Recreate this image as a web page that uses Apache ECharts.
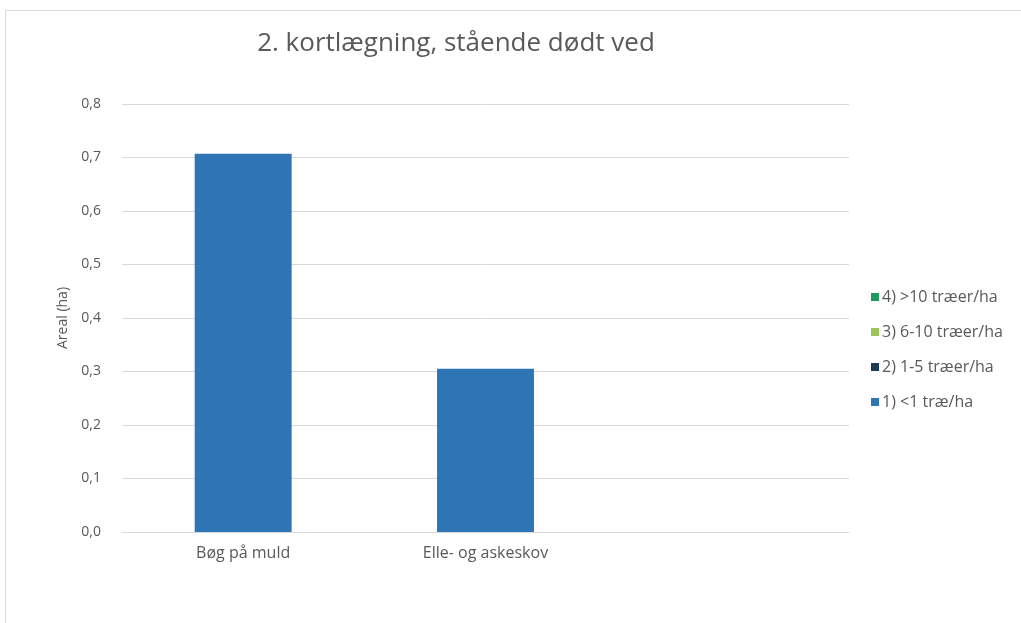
<!DOCTYPE html>
<html>
<head>
<meta charset="utf-8">
<script src="https://cdn.jsdelivr.net/npm/echarts@6/dist/echarts.min.js"></script>
<style>
html,body{margin:0;padding:0;background:#fff;}
#chart{width:1021px;height:623px;}
</style>
</head>
<body>
<div id="chart"></div>
<script>
const categories = ['Bøg på muld', 'Elle- og askeskov', ''];
const seriesNames = ['1) <1 træ/ha', '2) 1-5 træer/ha', '3) 6-10 træer/ha', '4) >10 træer/ha'];
const s1 = [0.707, 0.305, 0];
const s2 = [0, 0, 0];
const s3 = [0, 0, 0];
const s4 = [0, 0, 0];
const colors = ['#2e75b6', '#203a56', '#9dc35c', '#1e9b5a'];
const yTicks = [0, 0.1, 0.2, 0.3, 0.4, 0.5, 0.6, 0.7, 0.8];

const font = '"Open Sans", "Liberation Sans", sans-serif';
const values = [s1, s2, s3, s4];
const chart = echarts.init(document.getElementById('chart'));
chart.setOption({
  animation: false,
  backgroundColor: '#fff',
  graphic: [{
    type: 'rect', shape: {x: 5.5, y: 10.5, width: 1030, height: 630},
    style: {fill: 'none', stroke: '#d9d9d9', lineWidth: 1}, silent: true
  }],
  title: {
    text: '2. kortlægning, stående dødt ved',
    left: 451, top: 26, textAlign: 'center',
    textStyle: {fontFamily: font, fontSize: 26, fontWeight: 'normal', color: '#595959'}
  },
  legend: {
    orient: 'vertical', left: 866, top: 284,
    itemWidth: 8, itemHeight: 8, itemGap: 19,
    icon: 'rect',
    data: seriesNames.slice().reverse(),
    textStyle: {fontFamily: font, fontSize: 16, color: '#595959', padding: [0,0,0,-2]}
  },
  grid: {left: 122, right: 172, top: 104, bottom: 91, containLabel: false},
  xAxis: {
    type: 'category', data: categories,
    axisLine: {lineStyle: {color: '#d9d9d9'}},
    axisTick: {show: false},
    axisLabel: {fontFamily: font, fontSize: 16, color: '#595959', margin: 13}
  },
  yAxis: {
    type: 'value', min: 0, max: yTicks[yTicks.length-1], interval: 0.1,
    name: 'Areal (ha)', nameLocation: 'middle', nameGap: 49,
    nameTextStyle: {fontFamily: font, fontSize: 14, color: '#595959'},
    axisLine: {show: false}, axisTick: {show: false},
    splitLine: {lineStyle: {color: '#d9d9d9'}},
    axisLabel: {fontFamily: font, fontSize: 14, color: '#595959', margin: 21,
      formatter: v => v.toFixed(1).replace('.', ',')}
  },
  series: seriesNames.map((n, i) => ({
    name: n, type: 'bar', stack: 'total', data: values[i],
    barWidth: '40%', itemStyle: {color: colors[i]}
  }))
});
</script>
</body>
</html>
